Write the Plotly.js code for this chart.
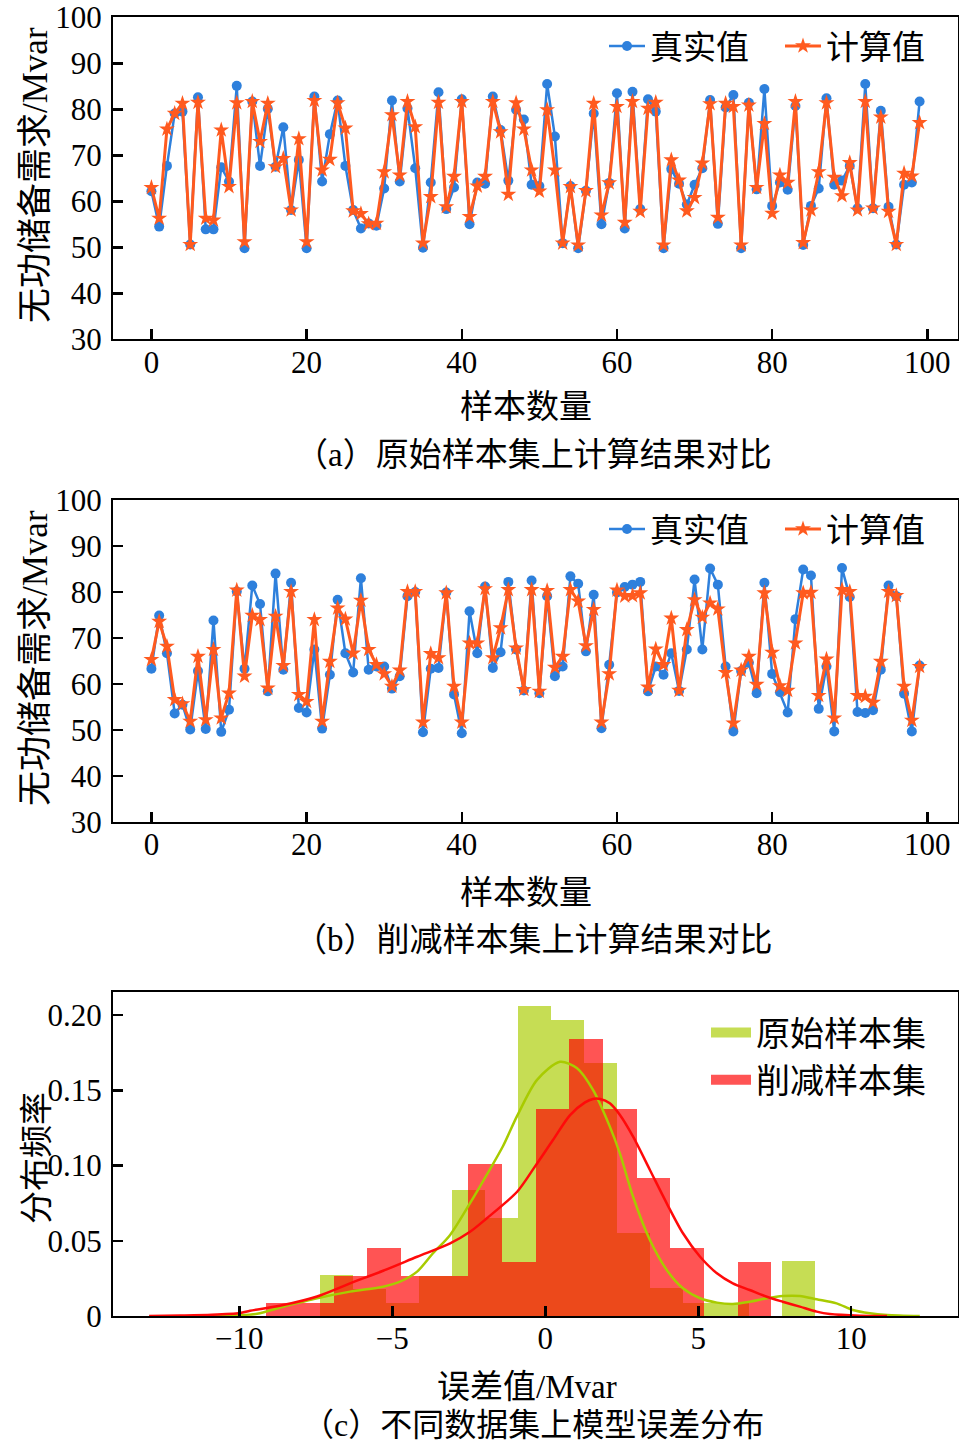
<!DOCTYPE html>
<html><head><meta charset="utf-8">
<script src="https://cdn.plot.ly/plotly-3.0.1.min.js"></script>
<style>body{margin:0;background:#fff}#chart{width:959px;height:1447px}</style>
</head><body><div id="chart"></div>
<script>
// ---------- data ----------
const sampleIndex = Array.from({length: 100}, (_, i) => i);
const trueA = [62.2,54.5,67.7,79.1,79.5,50.6,82.6,53.9,53.9,67.4,
 64.3,85.1,49.8,81.7,67.7,80.1,67.5,76.1,58.1,69.0,
 49.8,82.8,64.3,74.6,81.9,67.7,58.1,54.1,55.2,54.7,
 62.8,81.9,64.3,80.2,67.2,49.9,64.1,83.7,58.3,63.0,
 82.2,55.0,64.1,63.8,82.8,75.5,64.5,79.9,77.8,63.6,
 63.3,85.5,74.1,50.9,63.3,49.8,62.3,79.1,55.0,64.0,
 83.5,54.1,83.8,58.3,82.2,79.5,49.8,67.0,63.8,59.3,
 63.6,67.2,82.0,55.1,80.4,83.1,49.8,81.4,62.6,84.4,
 59.0,64.1,62.5,80.7,50.5,59.0,62.8,82.4,63.6,64.5,
 67.7,58.5,85.5,58.5,79.7,58.8,50.6,63.6,64.1,81.7];
const calcA = [63.0,56.3,75.7,79.1,81.3,50.6,81.5,56.3,55.9,75.5,
 63.2,81.4,51.2,81.7,73.0,81.3,67.5,69.3,58.1,73.6,
 51.2,81.9,66.8,69.1,81.4,75.9,57.9,57.3,55.1,55.2,
 66.4,78.8,65.7,81.7,76.2,50.9,61.0,81.5,58.8,65.4,
 81.7,56.7,63.3,65.4,81.7,75.1,61.5,81.4,75.7,66.8,
 62.2,79.9,66.8,50.9,63.2,50.5,62.3,81.3,57.0,64.0,
 80.6,55.4,81.7,57.8,80.2,81.5,50.5,69.0,64.6,57.9,
 60.8,68.3,81.2,56.5,81.3,80.6,50.5,80.9,63.0,76.9,
 57.4,65.7,64.1,81.7,51.0,58.1,66.4,81.4,65.2,61.2,
 68.4,58.1,81.7,58.5,78.3,57.8,50.6,66.1,65.5,77.1];
const trueB = [63.3,74.9,66.7,53.6,55.5,50.1,62.8,50.2,73.8,49.6,
 54.4,80.1,63.3,81.4,77.4,58.4,84.0,63.1,82.0,54.8,
 53.8,67.5,50.3,62.0,78.3,66.7,62.5,83.0,63.1,63.8,
 63.8,59.0,61.7,79.1,80.0,49.5,63.3,63.5,79.9,57.7,
 49.3,75.8,66.7,81.2,63.5,66.9,82.2,67.5,58.6,82.5,
 58.0,79.1,61.7,63.8,83.4,81.8,67.1,79.4,50.4,64.2,
 79.9,81.1,81.6,82.2,58.4,63.8,62.0,66.7,58.5,67.5,
 82.7,67.5,85.1,81.6,63.8,49.7,62.8,64.6,58.0,82.0,
 62.2,58.2,53.8,74.1,84.9,83.6,54.6,63.8,49.7,85.2,
 78.9,53.9,53.7,54.3,63.1,81.4,79.1,57.9,49.7,64.0];
const calcB = [65.3,73.6,68.2,56.6,55.7,51.9,66.0,52.2,67.5,52.6,
 58.0,80.4,61.7,74.9,74.0,59.1,74.7,64.0,80.1,57.7,
 56.2,74.0,51.9,64.9,76.5,74.1,66.7,78.2,67.5,64.2,
 62.2,59.5,63.0,80.1,80.1,51.7,66.6,65.7,79.8,59.5,
 51.7,68.9,68.9,80.7,65.7,72.2,80.5,67.8,58.8,80.5,
 58.4,80.3,63.6,66.0,80.5,78.0,68.3,76.2,51.7,62.2,
 80.4,79.1,79.2,79.8,59.3,67.6,64.2,74.3,58.6,71.8,
 78.3,74.5,77.6,76.3,62.5,51.5,63.0,66.0,59.9,79.8,
 66.9,59.6,58.6,68.9,79.8,79.9,57.5,65.4,52.6,80.5,
 80.1,57.5,57.3,56.0,64.9,80.1,79.2,59.5,52.1,63.8];

// histogram bins (edges) and densities
const origEdges = [-7.363,-6.285,-5.206,-4.128,-3.049,-1.971,-0.893,0.186,1.264,2.343,3.421,4.499,5.578,6.656,7.735,8.813];
const origDensity = [0.0273,0.0177,0.0086,0.0268,0.0838,0.0652,0.2061,0.1968,0.1684,0.055,0.0184,0.0089,0.0089,0,0.0366];
const redEdges = [-9.121,-8.020,-6.920,-5.819,-4.718,-3.618,-2.517,-1.416,-0.316,0.785,1.886,2.986,4.087,5.188,6.288,7.389];
const redDensity = [0.0084,0.0084,0.0266,0.045,0.0266,0.0268,0.1011,0.0361,0.1376,0.1842,0.1376,0.0916,0.045,0,0.0357];

// kernel density curves
const origKdeX = [-10.86,-10.15,-9.42,-8.57,-8.02,-7.46,-6.38,-5.30,-4.75,-4.19,-3.67,-3.11,-2.46,-1.91,-1.38,-0.92,-0.27,0.48,1.04,1.56,2.11,2.44,2.87,3.42,3.97,4.50,5.06,5.61,6.13,6.68,7.24,7.76,8.32,8.87,9.52,10.05,10.61,11.17,12.24];
const origKdeY = [0,0.0005,0.0015,0.0062,0.009,0.0118,0.0162,0.0195,0.0228,0.0295,0.0417,0.0539,0.075,0.094,0.113,0.133,0.157,0.169,0.1647,0.1503,0.1259,0.108,0.0793,0.0505,0.0306,0.0184,0.0118,0.0089,0.008,0.0095,0.0118,0.0133,0.0133,0.0111,0.0084,0.004,0.0018,0.0007,0];
const redKdeX = [-12.95,-11.94,-10.90,-9.98,-9.65,-8.57,-7.46,-6.38,-5.30,-4.19,-3.11,-2.46,-1.91,-0.92,-0.34,0.25,0.81,1.30,1.56,1.79,2.11,2.44,2.87,3.42,3.97,4.50,5.06,5.61,6.13,6.68,7.24,7.76,8.32,8.87,9.30,10.28,11.17];
const redKdeY = [0,0.0003,0.0008,0.002,0.0035,0.0073,0.013,0.0217,0.0301,0.0394,0.0483,0.056,0.065,0.0826,0.0993,0.117,0.1336,0.142,0.1443,0.1443,0.1414,0.1336,0.1192,0.0971,0.0749,0.055,0.0394,0.0284,0.0217,0.0173,0.0128,0.0095,0.0062,0.0029,0.0013,0.0002,0];

const seriesNames = ['真实值', '计算值'];
const histNames = ['原始样本集', '削减样本集'];

// ---------- styling ----------
const BLUE = '#2E80DC', ORANGE = '#FF5A1F';
const GREEN_LINE = '#A8CB00', RED_LINE = '#FF0A0A';
const GREEN_BAR = 'rgba(170,204,0,0.67)', RED_BAR = 'rgba(255,0,0,0.67)';
const FONT = 'Liberation Serif, "Noto Sans CJK SC", serif';

const mids = e => e.slice(0, -1).map((v, i) => (v + e[i + 1]) / 2);
const widths = e => e.slice(0, -1).map((v, i) => e[i + 1] - v);

function lineTraces(yt, yc, xa, ya, lg) {
  return [
    {x: sampleIndex, y: yt, xaxis: xa, yaxis: ya, legend: lg, name: seriesNames[0], type: 'scatter', mode: 'lines+markers',
     line: {color: BLUE, width: 2.5}, marker: {symbol: 'circle', size: 10, color: BLUE}},
    {x: sampleIndex, y: yc, xaxis: xa, yaxis: ya, legend: lg, name: seriesNames[1], type: 'scatter', mode: 'lines+markers',
     line: {color: ORANGE, width: 3}, marker: {symbol: 'star', size: 12, color: ORANGE}}
  ];
}

const traces = [
  ...lineTraces(trueA, calcA, 'x', 'y', 'legend'),
  ...lineTraces(trueB, calcB, 'x2', 'y2', 'legend2'),
  {type: 'bar', x: mids(origEdges), y: origDensity, width: widths(origEdges), xaxis: 'x3', yaxis: 'y3',
   marker: {color: GREEN_BAR, line: {width: 0}}, showlegend: false, name: histNames[0]},
  {type: 'bar', x: mids(redEdges), y: redDensity, width: widths(redEdges), xaxis: 'x3', yaxis: 'y3',
   marker: {color: RED_BAR, line: {width: 0}}, showlegend: false, name: histNames[1]},
  {type: 'scatter', mode: 'lines', x: origKdeX, y: origKdeY, xaxis: 'x3', yaxis: 'y3', showlegend: false,
   line: {color: GREEN_LINE, width: 2.5, shape: 'spline', smoothing: 0.8}},
  {type: 'scatter', mode: 'lines', x: redKdeX, y: redKdeY, xaxis: 'x3', yaxis: 'y3', showlegend: false,
   line: {color: RED_LINE, width: 2.5, shape: 'spline', smoothing: 0.8}},
  {type: 'scatter', mode: 'lines', x: [null], y: [null], xaxis: 'x3', yaxis: 'y3', legend: 'legend3',
   name: histNames[0], line: {color: GREEN_BAR, width: 15}},
  {type: 'scatter', mode: 'lines', x: [null], y: [null], xaxis: 'x3', yaxis: 'y3', legend: 'legend3',
   name: histNames[1], line: {color: RED_BAR, width: 15}}
];

// ---------- layout ----------
const W = 959, H = 1447, L = 113, R = 1, T = 2, B = 131;
const px2x = px => (px - L) / (W - L - R);
const py2y = py => ((H - B) - py) / (H - B - T);

const tickFont = {family: FONT, size: 31, color: '#000'};
const axBase = {showline: true, mirror: true, linecolor: '#000', linewidth: 2, ticks: 'inside', ticklen: 10,
  tickwidth: 2.5, tickcolor: '#000', showgrid: false, zeroline: false, tickfont: tickFont};

const xLine = {...axBase, range: [-4.95, 103.95], tickvals: [0, 20, 40, 60, 80, 100], ticklabelstandoff: -6};
const yLine = {...axBase, range: [30, 100], tickvals: [30, 40, 50, 60, 70, 80, 90, 100], ticklabelstandoff: 3};

const cjk = s => ({family: FONT, size: s, color: '#000'});
const ann = (text, px, py, size, angle) => ({text, x: px2x(px), y: py2y(py), xref: 'paper', yref: 'paper',
  showarrow: false, font: cjk(size), textangle: angle || 0, xanchor: 'center', yanchor: 'middle'});

const layout = {
  width: W, height: H, margin: {l: L, r: R, t: T, b: B}, paper_bgcolor: '#fff', plot_bgcolor: '#fff',
  barmode: 'overlay', bargap: 0, showlegend: true,
  xaxis: {...xLine, domain: [0, 1], anchor: 'y'},
  yaxis: {...yLine, domain: [py2y(339.3), py2y(17.3)], anchor: 'x'},
  xaxis2: {...xLine, domain: [0, 1], anchor: 'y2'},
  yaxis2: {...yLine, domain: [py2y(822), py2y(500)], anchor: 'x2'},
  xaxis3: {...axBase, domain: [0, 1], anchor: 'y3', range: [-14.13, 13.49], tickvals: [-10, -5, 0, 5, 10], ticklabelstandoff: -6},
  yaxis3: {...axBase, domain: [0, py2y(992)], anchor: 'x3', range: [0, 0.2154], ticklabelstandoff: 3,
    tickvals: [0, 0.05, 0.1, 0.15, 0.2], ticktext: ['0', '0.05', '0.10', '0.15', '0.20']},
  legend: {orientation: 'h', x: px2x(604), xanchor: 'left', y: py2y(18), yanchor: 'top',
    font: cjk(33), bgcolor: 'rgba(0,0,0,0)', itemwidth: 36, entrywidth: 125},
  legend2: {orientation: 'h', x: px2x(604), xanchor: 'left', y: py2y(501), yanchor: 'top',
    font: cjk(33), bgcolor: 'rgba(0,0,0,0)', itemwidth: 36, entrywidth: 125},
  legend3: {orientation: 'v', x: px2x(706), xanchor: 'left', y: py2y(1004), yanchor: 'top',
    font: cjk(34), bgcolor: 'rgba(0,0,0,0)', itemwidth: 40, tracegroupgap: 0},
  annotations: [
    ann('无功储备需求/Mvar', 35, 175, 35, -90),
    ann('样本数量', 526, 407, 33),
    ann('（a）原始样本集上计算结果对比', 533, 455, 33),
    ann('无功储备需求/Mvar', 35, 658, 35, -90),
    ann('样本数量', 526, 893, 33),
    ann('（b）削减样本集上计算结果对比', 533, 940, 33),
    ann('分布频率', 37, 1158, 33, -90),
    ann('误差值/Mvar', 527, 1387, 33),
    ann('（c）不同数据集上模型误差分布', 533, 1425, 32)
  ]
};

Plotly.newPlot('chart', traces, layout, {staticPlot: true, displayModeBar: false});
</script>
</body></html>
